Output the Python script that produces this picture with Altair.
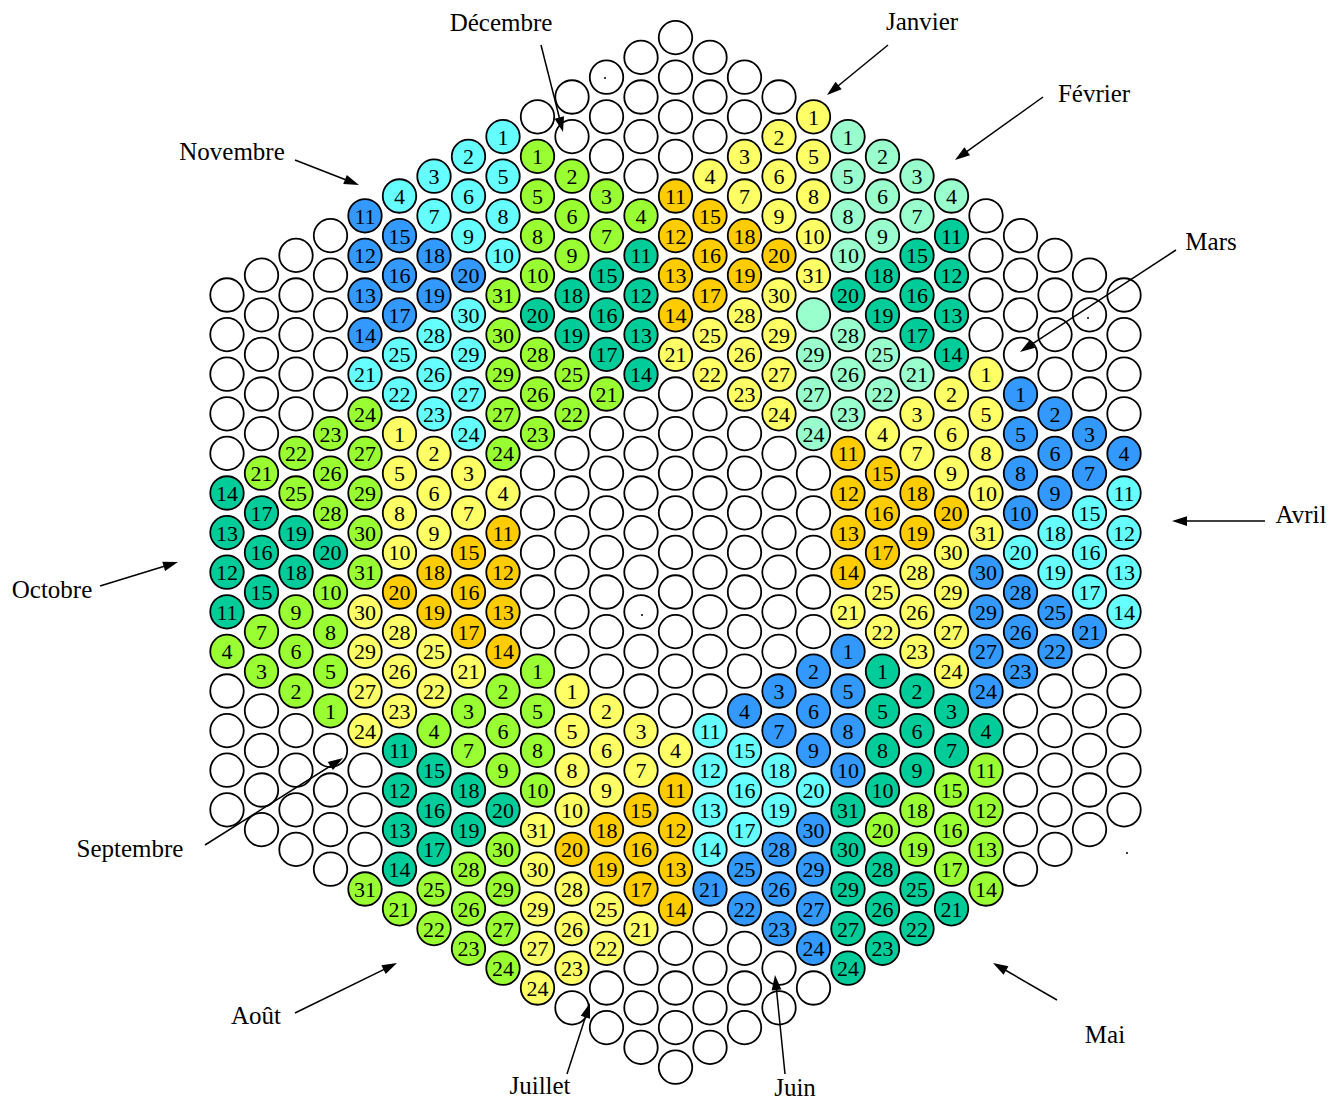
import math
import altair as alt
import pandas as pd

# ---------------- geometry of the hexagonal board (reference pixels) ----------------
SIDE = 14                    # positions on each edge of the hexagon
X0, DX = 227.0, 34.5         # page x of column 0, column spacing
Y0, DY = 295.0, 19.8         # page y of half-row 0, half-row spacing
PAGE_W, PAGE_H, MARGIN = 1344, 1110, 8
W, H = PAGE_W - 2 * MARGIN, PAGE_H - 2 * MARGIN

# ---------------- months ----------------
MONTHS = ["Janvier", "Février", "Mars", "Avril", "Mai", "Juin",
          "Juillet", "Août", "Septembre", "Octobre", "Novembre", "Décembre"]
DAYS = [31, 29, 31, 30, 31, 30, 31, 31, 30, 31, 30, 31]
PATTERN = ["A", "B", "A", "B", "B", "A", "B", "A", "B", "B", "A", "B"]
ORIENT = [1, 1, 1, 1, 1, 1, 1, 1, 1, -1, 1, 1]
START_COL = [17, 18, 22, 23, 19, 18, 10, 9, 5, 3, 8, 9]
START_ROW = [-9, -8, 4, 5, 19, 18, 20, 19, 7, 21, -8, -7]
COLOR_OUTER = ["yellow", "mint", "yellow", "blue", "teal", "blue",
               "yellow", "lime", "yellow", "lime", "cyan", "lime"]   # days 1-10 and 21-31
COLOR_MIDDLE = ["orange", "teal", "orange", "cyan", "lime", "cyan",
                "orange", "teal", "orange", "teal", "blue", "teal"]  # days 11-20
PALETTE = {"yellow": "#FFFF66", "orange": "#FFCC00", "mint": "#99FFCC",
           "teal": "#00CC99", "lime": "#99FF33", "cyan": "#66FFFF",
           "blue": "#3399FF", "white": "#FFFFFF"}

# day-by-day offsets (column, half-row) of the two placement patterns, days 1..31
A_DC = [0, -1, -2, -3, 0, -1, -2, 0, -1, 0, -4, -4, -4, -4, -3, -3, -3, -2, -2, -1,
        -4, -3, -2, -1, -3, -2, -1, -2, -1, -1, 0]
A_DH = [0, 1, 2, 3, 2, 3, 4, 4, 5, 6, 4, 6, 8, 10, 5, 7, 9, 6, 8, 7,
        12, 13, 14, 15, 11, 12, 13, 10, 11, 9, 8]
B_DC = [0, 1, 2, 3, 0, 1, 2, 0, 1, 0, 3, 3, 3, 3, 2, 2, 2, 1, 1, 0,
        2, 1, 0, -1, 1, 0, -1, 0, -1, -1, -1]
B_DH = [0, 1, 2, 3, 2, 3, 4, 4, 5, 6, 5, 7, 9, 11, 6, 8, 10, 7, 9, 8,
        12, 13, 14, 15, 11, 12, 13, 10, 11, 9, 7]

PLACEHOLDERS = [("Février", 30)]          # coloured position without a number
MOVED = {("Août", 31): (4, 30)}           # day placed away from its pattern spot

# ---------------- annotations (page pixels) ----------------
LABEL_X = [922, 1094, 1211, 1301, 1105, 795, 540, 256, 130, 52, 232, 501]
LABEL_Y = [22, 94, 242, 515, 1035, 1088, 1086, 1016, 849, 590, 152, 23]
ARROW_X1 = [888, 1043, 1176, 1265, 1057, 785, 567, 295, 205, 100, 295, 541]
ARROW_Y1 = [45, 97, 250, 521, 1000, 1074, 1074, 1013, 845, 586, 160, 45]
ARROW_X2 = [827, 955, 1020, 1172, 993, 775, 590, 397, 343, 178, 359, 563]
ARROW_Y2 = [95, 160, 352, 521, 963, 975, 1003, 963, 758, 562, 185, 132]
DOT_X = [605, 642, 1088, 1127]
DOT_Y = [78, 615, 318, 853]

# ---------------- build tables ----------------
cells = {}
for c in range(2 * SIDE - 1):
    k = min(c, 2 * SIDE - 2 - c)
    for h in range(-k, 2 * SIDE - 2 + k + 1, 2):
        cells[(c, h)] = {"c": c, "h": h, "fill": PALETTE["white"], "label": ""}

for m, name in enumerate(MONTHS):
    dcs, dhs = (A_DC, A_DH) if PATTERN[m] == "A" else (B_DC, B_DH)
    extra = [d for (mn, d) in PLACEHOLDERS if mn == name]
    for d in list(range(1, DAYS[m] + 1)) + extra:
        c = START_COL[m] + ORIENT[m] * dcs[d - 1]
        h = START_ROW[m] + ORIENT[m] * dhs[d - 1]
        if (name, d) in MOVED:
            c, h = MOVED[(name, d)]
        col = COLOR_MIDDLE[m] if 11 <= d <= 20 else COLOR_OUTER[m]
        cells[(c, h)] = {"c": c, "h": h, "fill": PALETTE[col],
                         "label": str(d) if d <= DAYS[m] else ""}

board = pd.DataFrame(list(cells.values()))
numbers = board[board["label"] != ""]


def gx(px):
    return (px - X0) / DX


def gy(py):
    return (py - Y0) / DY


labels = pd.DataFrame({"text": MONTHS,
                       "c": [gx(v) for v in LABEL_X],
                       "h": [gy(v) for v in LABEL_Y]})

HEAD_LEN = 15.0
rows = []
for i in range(len(MONTHS)):
    dx = ARROW_X2[i] - ARROW_X1[i]
    dy = ARROW_Y2[i] - ARROW_Y1[i]
    L = math.hypot(dx, dy)
    hx = ARROW_X2[i] - dx / L * HEAD_LEN / 2
    hy = ARROW_Y2[i] - dy / L * HEAD_LEN / 2
    ang = (math.degrees(math.atan2(dx, -dy)) + 360) % 360
    rows.append({"c": gx(ARROW_X1[i]), "h": gy(ARROW_Y1[i]),
                 "c2": gx(hx), "h2": gy(hy),
                 "hc": gx(hx), "hh": gy(hy), "ang": ang})
arrows = pd.DataFrame(rows)
dots = pd.DataFrame({"c": [gx(v) for v in DOT_X], "h": [gy(v) for v in DOT_Y]})

xs = alt.Scale(domain=[gx(MARGIN), gx(MARGIN + W)], nice=False, zero=False)
ys = alt.Scale(domain=[gy(MARGIN), gy(MARGIN + H)], nice=False, zero=False, reverse=True)

X = lambda f: alt.X(f, type="quantitative", scale=xs, axis=None)
Y = lambda f: alt.Y(f, type="quantitative", scale=ys, axis=None)

circles = alt.Chart(board).mark_circle(
    size=1120, stroke="black", strokeWidth=1.8, opacity=1
).encode(x=X("c"), y=Y("h"), color=alt.Color("fill:N", scale=None))

digits = alt.Chart(numbers).mark_text(
    font="Liberation Serif", fontSize=22, align="center", baseline="middle", dy=1, color="black"
).encode(x=X("c"), y=Y("h"), text="label:N")

month_text = alt.Chart(labels).mark_text(
    font="Liberation Serif", fontSize=25, align="center", baseline="middle", color="black"
).encode(x=X("c"), y=Y("h"), text="text:N")

lines = alt.Chart(arrows).mark_rule(color="black", strokeWidth=1.5).encode(
    x=X("c"), y=Y("h"), x2="c2:Q", y2="h2:Q")

heads = alt.Chart(arrows).mark_point(
    shape="M0,-1L0.65,1L-0.65,1Z", filled=True, color="black", size=HEAD_LEN ** 2, opacity=1
).encode(x=X("hc"), y=Y("hh"), angle=alt.Angle("ang:Q", scale=None))

specks = alt.Chart(dots).mark_point(
    shape="circle", filled=True, color="black", size=4, opacity=1
).encode(x=X("c"), y=Y("h"))

chart = alt.layer(circles, digits, specks, lines, heads, month_text).properties(
    width=W, height=H, padding=0,
    autosize=alt.AutoSizeParams(type="none")
).configure_view(strokeWidth=0)

chart.save("out.html", embed_options={"renderer": "svg", "actions": False})
